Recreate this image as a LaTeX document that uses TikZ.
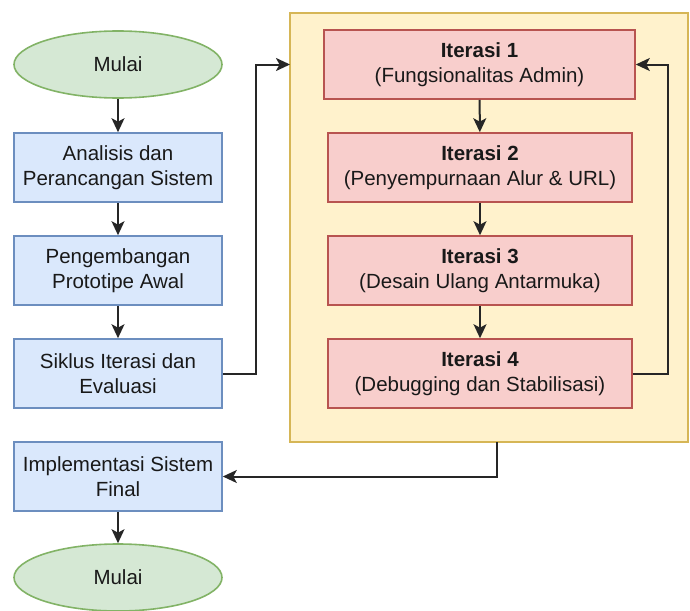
\documentclass[tikz,border=0pt]{standalone}
\usepackage{fontspec}
\setmainfont{Liberation Sans}
\usetikzlibrary{shapes.geometric,arrows.meta}

\definecolor{greenfill}{HTML}{D5E8D4}
\definecolor{greenline}{HTML}{82B366}
\definecolor{bluefill}{HTML}{DAE8FC}
\definecolor{blueline}{HTML}{6C8EBF}
\definecolor{redfill}{HTML}{F8CECC}
\definecolor{redline}{HTML}{B85450}
\definecolor{yellowfill}{HTML}{FFF2CC}
\definecolor{yellowline}{HTML}{D6B656}

\tikzset{
  txt/.style={align=center, text=black!90, font=\fontsize{20.5}{25.5}\selectfont},
  terminal/.style={txt, ellipse, draw=greenline, fill=greenfill, line width=1.6pt,
    minimum width=208pt, minimum height=67pt, inner sep=0pt},
  process/.style={txt, rectangle, draw=blueline, fill=bluefill, line width=1.6pt,
    minimum width=208pt, minimum height=69pt, inner sep=0pt},
  iter/.style={txt, rectangle, draw=redline, fill=redfill, line width=1.6pt,
    minimum height=69pt, inner sep=0pt},
  group/.style={rectangle, draw=yellowline, fill=yellowfill, line width=1.6pt,
    minimum width=398pt, minimum height=429pt, inner sep=0pt},
  arr/.style={draw=black!85, line width=2pt, -{Stealth[length=14pt,width=13pt,inset=3.5pt]}},
}

\begin{document}
\begin{tikzpicture}[x=1pt,y=-1pt]
\useasboundingbox (0,0) rectangle (690,610);

% iteration cycle container
\node[group] (cycle) at (489,227.5) {};

% main flow
\node[terminal] (start) at (118,64.5) {Mulai};
\node[process] (analisis) at (118,167.5) {Analisis dan\\Perancangan Sistem};
\node[process] (proto) at (118,270.5) {Pengembangan\\Prototipe Awal};
\node[process] (siklus) at (118,373.5) {Siklus Iterasi dan\\Evaluasi};
\node[process] (impl) at (118,476.5) {Implementasi Sistem\\Final};
\node[terminal] (finish) at (118,577.5) {Mulai};

% iterations
\node[iter, minimum width=311pt] (it1) at (479.5,64.5) {\textbf{Iterasi 1}\\(Fungsionalitas Admin)};
\node[iter, minimum width=304pt] (it2) at (480,167.5) {\textbf{Iterasi 2}\\(Penyempurnaan Alur \& URL)};
\node[iter, minimum width=304pt] (it3) at (480,270.5) {\textbf{Iterasi 3}\\(Desain Ulang Antarmuka)};
\node[iter, minimum width=304pt] (it4) at (480,373.5) {\textbf{Iterasi 4}\\(Debugging dan Stabilisasi)};

% routing points
\coordinate (cyclein) at (290,64.5);
\coordinate (bendin) at (255.5,64.5);
\coordinate (bendloop) at (668,64.5);
\coordinate (cycleout) at (497,442);

% connectors
\draw[arr] (start) -- (analisis);
\draw[arr] (analisis) -- (proto);
\draw[arr] (proto) -- (siklus);
\draw[arr] (siklus.east) -| (bendin) -- (cyclein);
\draw[arr] (it1) -- (it2);
\draw[arr] (it2) -- (it3);
\draw[arr] (it3) -- (it4);
\draw[arr] (it4.east) -| (bendloop) -- (it1.east);
\draw[arr] (cycleout) |- (impl.east);
\draw[arr] (impl) -- (finish);
\end{tikzpicture}
\end{document}
